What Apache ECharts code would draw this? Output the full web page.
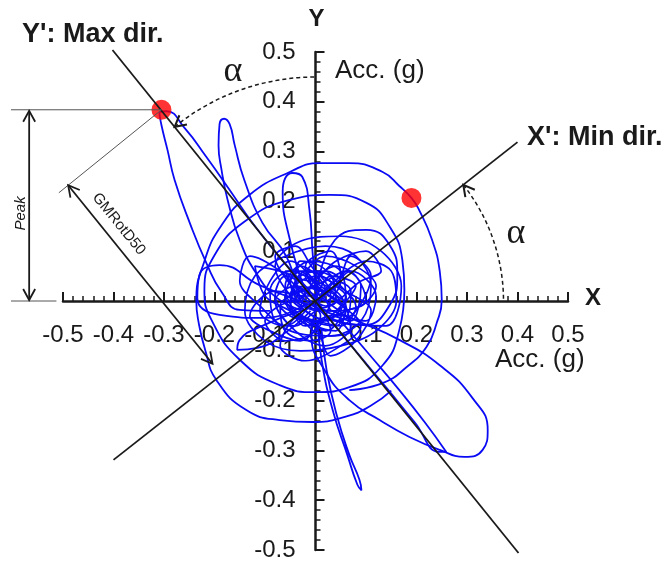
<!DOCTYPE html>
<html>
<head>
<meta charset="utf-8">
<script src="https://cdn.jsdelivr.net/npm/echarts@6/dist/echarts.min.js"></script>
<style>
  html, body { margin: 0; padding: 0; background: #fff; }
  #chart { width: 663px; height: 562px; }
</style>
</head>
<body>
<div id="chart"></div>
<script>
// axis range (g)
const axisMin = -0.5;
const axisMax = 0.5;
const tickStep = 0.1;

// principal directions, drawn through the origin
const maxDirLine = [[-0.402, 0.504], [0.402, -0.506]];
const minDirLine = [[-0.400, -0.319], [0.400, 0.319]];

// marked points of the orbit
const peakPoints = [[-0.305, 0.384], [0.190, 0.207]];

// acceleration orbit, read loop by loop (x, y in g)
const peakLoop = [[-0.02, 0.03], [-0.071, 0.088], [-0.125, 0.157], [-0.170, 0.223], [-0.216, 0.289], [-0.259, 0.347],
  [-0.295, 0.381], [-0.309, 0.378], [-0.305, 0.353], [-0.293, 0.303], [-0.279, 0.243], [-0.249, 0.157],
  [-0.216, 0.076], [-0.186, 0.018], [-0.150, -0.018], [-0.09, -0.02]];
const narrowLoop = [[-0.03, 0.0], [-0.057, 0.088], [-0.105, 0.157], [-0.141, 0.243], [-0.160, 0.313], [-0.170, 0.355],
  [-0.181, 0.366], [-0.190, 0.355], [-0.192, 0.313], [-0.186, 0.263], [-0.174, 0.203], [-0.150, 0.122],
  [-0.115, 0.052], [-0.071, 0.002], [-0.02, -0.02]];
const outerLoop = [[0.067, -0.179], [0.133, -0.165], [0.180, -0.133], [0.220, -0.092], [0.240, -0.044], [0.250, 0.002],
  [0.246, 0.06], [0.230, 0.125], [0.205, 0.183], [0.190, 0.207], [0.166, 0.231], [0.133, 0.259], [0.067, 0.277],
  [0.008, 0.277], [-0.051, 0.259], [-0.131, 0.213], [-0.186, 0.152], [-0.220, 0.08], [-0.236, 0.0], [-0.232, -0.04],
  [-0.218, -0.100], [-0.196, -0.159], [-0.137, -0.219], [-0.071, -0.239], [-0.006, -0.243], [0.06, -0.232],
  [0.11, -0.21], [0.150, -0.180]];
const middleLoop = [[0.176, 0.022], [0.166, -0.058], [0.133, -0.129], [0.067, -0.173], [0.002, -0.183], [-0.071, -0.169],
  [-0.150, -0.118], [-0.206, -0.038], [-0.220, 0.022], [-0.200, 0.092], [-0.141, 0.159], [-0.051, 0.203],
  [0.028, 0.213], [0.101, 0.197], [0.147, 0.149], [0.172, 0.082], [0.176, 0.022]];
const southEastLoop = [[0.028, -0.018], [0.087, -0.042], [0.166, -0.078], [0.246, -0.129], [0.311, -0.195],
  [0.341, -0.259], [0.331, -0.299], [0.295, -0.313], [0.246, -0.299], [0.186, -0.273], [0.127, -0.239],
  [0.067, -0.199], [0.018, -0.139], [-0.008, -0.068], [0.0, -0.02]];
const thinSouthEast = [[0.048, -0.038], [0.107, -0.108], [0.166, -0.179], [0.216, -0.243], [0.259, -0.303],
  [0.246, -0.303], [0.196, -0.243], [0.141, -0.175], [0.081, -0.102], [0.032, -0.042]];
const thinSouth = [[0.004, -0.038], [0.012, -0.118], [0.034, -0.219], [0.063, -0.309], [0.083, -0.369],
  [0.091, -0.380], [0.087, -0.359], [0.067, -0.309], [0.042, -0.229], [0.022, -0.139], [0.012, -0.058]];
const westLoop = [[-0.03, 0.0], [-0.111, 0.032], [-0.190, 0.072], [-0.230, 0.052], [-0.234, 0.006],
  [-0.190, -0.028], [-0.101, -0.034], [-0.022, -0.008]];
const southWestLoop = [[-0.03, -0.02], [-0.101, -0.048], [-0.150, -0.078], [-0.155, -0.098], [-0.115, -0.094],
  [-0.052, -0.058], [-0.01, -0.02]];
const eastLoop = [[0.0, 0.0], [0.038, 0.122], [0.101, 0.143], [0.147, 0.112], [0.162, 0.052], [0.147, -0.008],
  [0.097, -0.048], [0.038, -0.038], [0.0, 0.0]];
const northLoop = [[-0.02, 0.02], [-0.05, 0.12], [-0.065, 0.22], [-0.046, 0.257], [-0.026, 0.249],
  [-0.012, 0.183], [-0.006, 0.10], [0.0, 0.03]];
const centreTangle = [[0, 0], [0.03, 0.05], [0.08, 0.03], [0.05, -0.02], [0.10, -0.04], [0.12, 0.01], [0.07, 0.06],
  [0.02, 0.02], [-0.03, 0.06], [-0.06, 0.01], [-0.02, -0.04], [0.04, -0.06], [0.06, -0.01], [0.01, 0.03],
  [-0.05, 0.08], [-0.09, 0.04], [-0.11, -0.02], [-0.06, -0.05], [-0.01, -0.01], [0.05, 0.05], [0.03, 0.10],
  [-0.02, 0.07], [0.00, 0.02], [0.07, -0.05], [0.02, -0.09], [-0.04, -0.06], [-0.08, 0.00], [-0.04, 0.03],
  [0.02, -0.01], [0.09, 0.04], [0.13, 0.06], [0.10, 0.10], [0.04, 0.08], [-0.01, 0.04], [-0.07, 0.06],
  [-0.12, 0.07], [-0.10, 0.01], [-0.05, -0.02], [0.00, -0.05], [0.03, -0.11], [0.08, -0.08], [0.11, -0.02],
  [0.06, 0.02], [0.00, 0.06], [-0.04, 0.11], [-0.08, 0.09], [-0.04, 0.02], [0.01, -0.03], [-0.03, -0.08],
  [-0.09, -0.06], [-0.13, -0.03], [-0.08, 0.02], [-0.02, 0.01], [0.04, 0.03], [0.07, 0.09], [0.11, 0.05],
  [0.08, -0.02], [0.04, -0.04], [-0.02, -0.02], [-0.05, 0.04], [-0.01, 0.08], [0.05, 0.06], [0.06, 0.00],
  [0.02, -0.06], [-0.03, -0.03], [-0.07, -0.09], [-0.02, -0.12], [0.05, -0.09], [0.09, -0.05], [0.04, 0.00],
  [-0.02, 0.05], [0.02, 0.09], [0.08, 0.07], [0.12, 0.03], [0.09, -0.01], [0.03, -0.02], [-0.04, 0.00],
  [-0.10, -0.04], [-0.06, -0.08], [0.00, -0.06], [0.03, 0.01], [-0.01, 0.06], [-0.06, 0.06], [-0.03, 0.00],
  [0.01, -0.02]];
const innerTangle = [[0.01, 0.01], [0.04, 0.04], [0.07, 0.02], [0.06, -0.03], [0.02, -0.02], [-0.02, 0.03],
  [-0.06, 0.05], [-0.08, 0.01], [-0.05, -0.03], [0.00, -0.04], [0.05, -0.05], [0.08, -0.01], [0.05, 0.03],
  [0.01, 0.07], [-0.03, 0.08], [-0.04, 0.04], [0.00, 0.00], [0.03, -0.06], [-0.01, -0.08], [-0.06, -0.06],
  [-0.07, -0.01], [-0.03, 0.02], [0.02, 0.04], [0.06, 0.06], [0.09, 0.03], [0.07, -0.04], [0.03, -0.03],
  [-0.02, -0.05], [-0.05, 0.00], [-0.02, 0.06], [0.03, 0.05], [0.04, 0.00], [0.00, -0.02], [-0.04, -0.05],
  [-0.08, -0.04], [-0.09, 0.02], [-0.05, 0.06], [0.00, 0.04], [0.05, 0.01], [0.07, -0.06], [0.02, -0.07],
  [-0.03, -0.02], [-0.01, 0.03], [0.04, 0.07], [0.08, 0.05], [0.10, 0.00], [0.06, -0.02], [0.01, -0.04],
  [-0.04, -0.02], [-0.06, 0.03], [-0.03, 0.07], [0.02, 0.02], [0.00, -0.01]];
const ringTangle = [[0.02, 0.02], [0.10, 0.08], [0.15, 0.06], [0.16, 0.00], [0.12, -0.06], [0.05, -0.09],
  [-0.03, -0.10], [-0.10, -0.08], [-0.14, -0.02], [-0.12, 0.05], [-0.06, 0.09], [0.02, 0.11], [0.08, 0.09],
  [0.11, 0.03], [0.09, -0.04], [0.03, -0.07], [-0.05, -0.06], [-0.11, -0.01], [-0.15, 0.04], [-0.13, 0.09],
  [-0.07, 0.06], [-0.02, 0.01], [0.04, -0.04], [0.14, -0.05], [0.17, 0.03], [0.13, 0.10], [0.05, 0.13],
  [-0.03, 0.12], [-0.08, 0.07], [-0.04, 0.00], [0.00, -0.02]];
const coreTangle = [[0, 0], [0.03, 0.02], [0.05, -0.01], [0.02, -0.04], [-0.02, -0.02], [-0.05, 0.01], [-0.03, 0.04],
  [0.01, 0.05], [0.04, 0.03], [0.06, 0.01], [0.03, -0.03], [-0.01, -0.05], [-0.04, -0.03], [-0.06, 0.00],
  [-0.02, 0.02], [0.02, 0.00], [0.05, 0.04], [0.02, 0.06], [-0.03, 0.05], [-0.05, -0.02], [-0.01, -0.04],
  [0.04, -0.05], [0.06, -0.02], [0.01, 0.02], [-0.04, 0.03], [-0.02, -0.01], [0.03, -0.02], [0.00, 0.03],
  [-0.03, 0.00], [0.01, -0.01]];

const orbitLoops = [peakLoop, narrowLoop, outerLoop, middleLoop, southEastLoop,
  thinSouthEast, thinSouth, westLoop, southWestLoop, eastLoop, northLoop];
const tangles = [centreTangle, innerTangle, ringTangle, coreTangle];

const ink = '#1a1a1a';
const orbitBlue = '#0a0af5';
const sans = '"Liberation Sans", Arial, sans-serif';

// grid box; the axes are shifted into its middle so they cross at zero
const gridLeft = 63, gridRight = 95, gridTop = 52, gridBottom = 12;
const gridW = 663 - gridLeft - gridRight;
const gridH = 562 - gridTop - gridBottom;

const axisCommon = {
  type: 'value',
  min: axisMin,
  max: axisMax,
  interval: tickStep,
  axisLine: { onZero: false, lineStyle: { color: ink, width: 2.5 } },
  axisTick: { inside: true, length: 9, lineStyle: { color: ink, width: 2 } },
  minorTick: { show: true, splitNumber: 5, length: 5, lineStyle: { color: ink, width: 1.5 } },
  splitLine: { show: false },
  minorSplitLine: { show: false }
};

const series = orbitLoops.map(loop => ({
  type: 'line',
  data: loop,
  smooth: 0.5,
  showSymbol: false,
  silent: true,
  z: 2,
  lineStyle: { color: orbitBlue, width: 1.8 }
}));
tangles.forEach(loop => series.push({
  type: 'line',
  data: loop,
  smooth: 0.35,
  showSymbol: false,
  silent: true,
  z: 2,
  lineStyle: { color: orbitBlue, width: 1.7 }
}));

series.push({
  type: 'scatter',
  data: peakPoints,
  symbolSize: 20,
  z: 3,
  itemStyle: { color: '#ff0000' }
});
[maxDirLine, minDirLine].forEach(line => series.push({
  type: 'line',
  data: line,
  clip: false,
  showSymbol: false,
  z: 4,
  lineStyle: { color: ink, width: 1.8 }
}));

const option = {
  animation: false,
  backgroundColor: '#fff',
  grid: { left: gridLeft, right: gridRight, top: gridTop, bottom: gridBottom, containLabel: false, outerBoundsMode: 'none' },
  xAxis: Object.assign({}, axisCommon, {
    position: 'bottom',
    offset: -gridH / 2,
    axisLabel: { fontSize: 24, margin: 22, color: ink, fontFamily: sans }
  }),
  yAxis: Object.assign({}, axisCommon, {
    position: 'left',
    offset: -gridW / 2,
    axisLabel: {
      fontSize: 24, margin: 20, color: ink, fontFamily: sans,
      formatter: v => (v === 0 ? '' : String(+v.toFixed(1)))
    }
  }),
  series: series
};

const chart = echarts.init(document.getElementById('chart'));
chart.setOption(option);

// annotations placed from the axes
const toPx = pt => chart.convertToPixel({ gridIndex: 0 }, pt);
const origin = toPx([0, 0]);
function unitFromOrigin(p) {
  const dx = p[0] - origin[0], dy = p[1] - origin[1];
  const l = Math.hypot(dx, dy);
  return [dx / l, dy / l];
}
const uMax = unitFromOrigin(toPx(maxDirLine[0]));
const uMin = unitFromOrigin(toPx(minDirLine[1]));

function chevron(tip, dir, len, half) {
  const bx = tip[0] - dir[0] * len, by = tip[1] - dir[1] * len;
  const nx = -dir[1], ny = dir[0];
  return [[bx + nx * half, by + ny * half], tip, [bx - nx * half, by - ny * half]];
}
function line(a, b, w, color) {
  return { type: 'line', z: 10, shape: { x1: a[0], y1: a[1], x2: b[0], y2: b[1] },
    style: { stroke: color || ink, lineWidth: w } };
}
function head(tip, dir, w) {
  return { type: 'polyline', z: 10, shape: { points: chevron(tip, dir, 11, 6) },
    style: { stroke: ink, fill: null, lineWidth: w || 1.8 } };
}
function label(text, x, y, font) {
  return { type: 'text', z: 10, x: x, y: y,
    style: { text: text, font: font, fill: ink, align: 'left', verticalAlign: 'middle',
      textAlign: 'left', textVerticalAlign: 'middle' } };
}
function centred(text, x, y, font, rotation) {
  return { type: 'text', z: 10, x: x, y: y, rotation: rotation || 0,
    style: { text: text, font: font, fill: ink, align: 'center', verticalAlign: 'middle',
      textAlign: 'center', textVerticalAlign: 'middle' } };
}

const g = [];
// alpha arcs
const r1 = 224, r2 = 188;
const aMax = Math.atan2(uMax[1], uMax[0]);
const aMin = Math.atan2(uMin[1], uMin[0]);
g.push({ type: 'arc', z: 10, shape: { cx: origin[0], cy: origin[1], r: r1, startAngle: aMax, endAngle: -Math.PI / 2, clockwise: true },
  style: { stroke: ink, fill: null, lineWidth: 1.5, lineDash: [4, 3] } });
g.push(head([origin[0] + r1 * Math.cos(aMax), origin[1] + r1 * Math.sin(aMax)], [Math.sin(aMax), -Math.cos(aMax)], 2));
g.push({ type: 'arc', z: 10, shape: { cx: origin[0], cy: origin[1], r: r2, startAngle: aMin, endAngle: 0, clockwise: true },
  style: { stroke: ink, fill: null, lineWidth: 1.5, lineDash: [4, 3] } });
g.push(head([origin[0] + r2 * Math.cos(aMin), origin[1] + r2 * Math.sin(aMin)], [Math.sin(aMin), -Math.cos(aMin)], 2));

// Peak dimension
const dot = toPx(peakPoints[0]);
const leftEdge = toPx([-0.603, 0])[0];
const peakX = toPx([-0.567, 0])[0];
const baseEnd = toPx([-0.513, 0]);
g.push(line([leftEdge, dot[1]], dot, 1, '#555'));
g.push(line([leftEdge, origin[1]], baseEnd, 1, '#555'));
g.push(line([peakX, dot[1] + 1], [peakX, origin[1] - 1], 1.8));
g.push(head([peakX, dot[1] + 1], [0, -1]));
g.push(head([peakX, origin[1] - 1], [0, 1]));
g.push(centred('Peak', peakX - 8, (dot[1] + origin[1]) / 2 + 8, 'italic 15px ' + sans, Math.PI / 2));

// GMRotD50 dimension, parallel to the max direction
const perp = [uMax[1], -uMax[0]];
const reach = (dot[0] - origin[0]) * uMax[0] + (dot[1] - origin[1]) * uMax[1];
const start = [dot[0] + perp[0] * 120, dot[1] + perp[1] * 120];
const stop = [start[0] - uMax[0] * (reach - 16), start[1] - uMax[1] * (reach - 16)];
g.push(line(dot, [dot[0] + perp[0] * 132, dot[1] + perp[1] * 132], 1, '#555'));
g.push(line(start, stop, 1.8));
g.push(head(start, uMax));
g.push(head(stop, [-uMax[0], -uMax[1]]));
const tAng = Math.atan2(-uMax[1], -uMax[0]);
g.push(centred('GMRotD50', start[0] - uMax[0] * 62 - perp[0] * 15, start[1] - uMax[1] * 62 - perp[1] * 15,
  '15px ' + sans, -tAng));

// titles and units
g.push(label("Y': Max dir.", 22, 35, 'bold 27px ' + sans));
g.push(label("X': Min dir.", 527, 138, 'bold 27px ' + sans));
g.push(centred('Y', origin[0] + 1, 19, 'bold 24px ' + sans));
g.push(centred('X', 593, origin[1] - 3, 'bold 24px ' + sans));
g.push(label('Acc. (g)', 335, 71, '26px ' + sans));
g.push(label('Acc. (g)', 495, 360, '26px ' + sans));
g.push(centred('\u03b1', 233, 72, '36px "Liberation Serif", "DejaVu Serif", serif'));
g.push(centred('\u03b1', 516, 234, '36px "Liberation Serif", "DejaVu Serif", serif'));

chart.setOption({ graphic: { elements: g } });
</script>
</body>
</html>
